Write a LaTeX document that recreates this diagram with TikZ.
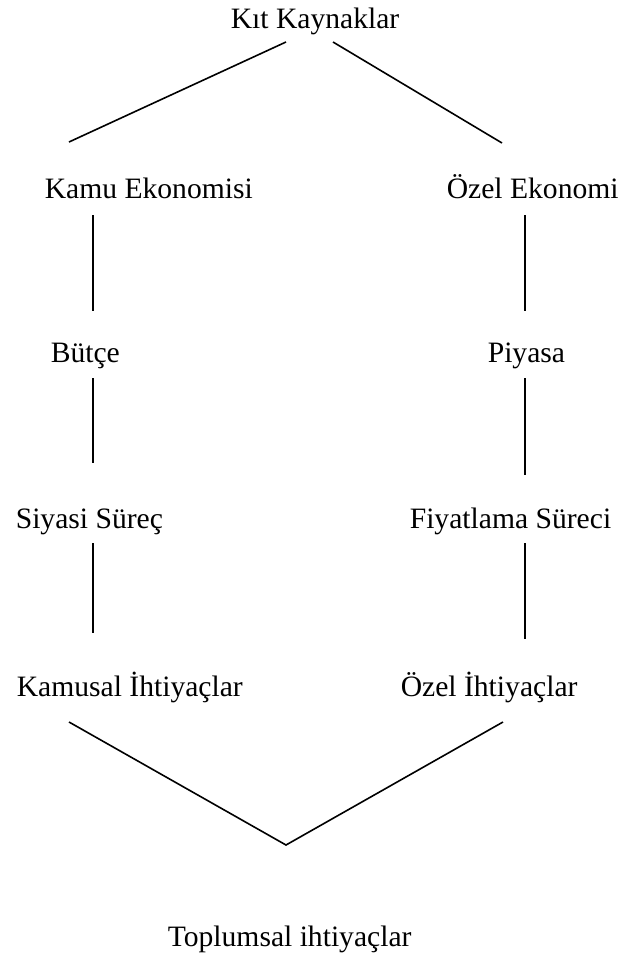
\documentclass[tikz,border=0pt]{standalone}
\usepackage{fontspec}
\setmainfont{Liberation Serif}
\begin{document}
\begin{tikzpicture}[x=0.5pt, y=-0.5pt, line width=0.8pt,
    lbl/.style={anchor=base west, inner sep=0pt, font=\fontsize{14.8}{17}\selectfont}]
    \useasboundingbox (0, 0) rectangle (626, 959);
    \node[lbl] (kit) at (230, 28) {Kıt Kaynaklar};
    \node[lbl] (kamu) at (44, 198) {Kamu Ekonomisi};
    \node[lbl] (ozel) at (446, 198) {Özel Ekonomi};
    \node[lbl] (butce) at (50, 362) {Bütçe};
    \node[lbl] (piyasa) at (487, 362) {Piyasa};
    \node[lbl] (siyasi) at (15, 528) {Siyasi Süreç};
    \node[lbl] (fiyat) at (409, 528) {Fiyatlama Süreci};
    \node[lbl] (kamusal) at (16, 696) {Kamusal İhtiyaçlar};
    \node[lbl] (ozelih) at (400, 696) {Özel İhtiyaçlar};
    \node[lbl] (toplum) at (167, 946) {Toplumsal ihtiyaçlar};
    \coordinate (k1) at (286, 42);
    \coordinate (k2) at (333, 42);
    \coordinate (a1) at (69, 142);
    \coordinate (b1) at (502, 143);
    \coordinate (a2) at (93, 215);
    \coordinate (a3) at (93, 311);
    \coordinate (a4) at (93, 378);
    \coordinate (a5) at (93, 463);
    \coordinate (a6) at (93, 543);
    \coordinate (a7) at (93, 633);
    \coordinate (b2) at (525, 215);
    \coordinate (b3) at (525, 311);
    \coordinate (b4) at (525, 378);
    \coordinate (b5) at (525, 475);
    \coordinate (b6) at (525, 543);
    \coordinate (b7) at (525, 639);
    \coordinate (v1) at (69, 722);
    \coordinate (v2) at (286, 845);
    \coordinate (v3) at (503, 722);
    \draw (k1)--(a1);
    \draw (k2)--(b1);
    \draw (a2)--(a3);
    \draw (a4)--(a5);
    \draw (a6)--(a7);
    \draw (b2)--(b3);
    \draw (b4)--(b5);
    \draw (b6)--(b7);
    \draw (v1)--(v2)--(v3);
\end{tikzpicture}
\end{document}
